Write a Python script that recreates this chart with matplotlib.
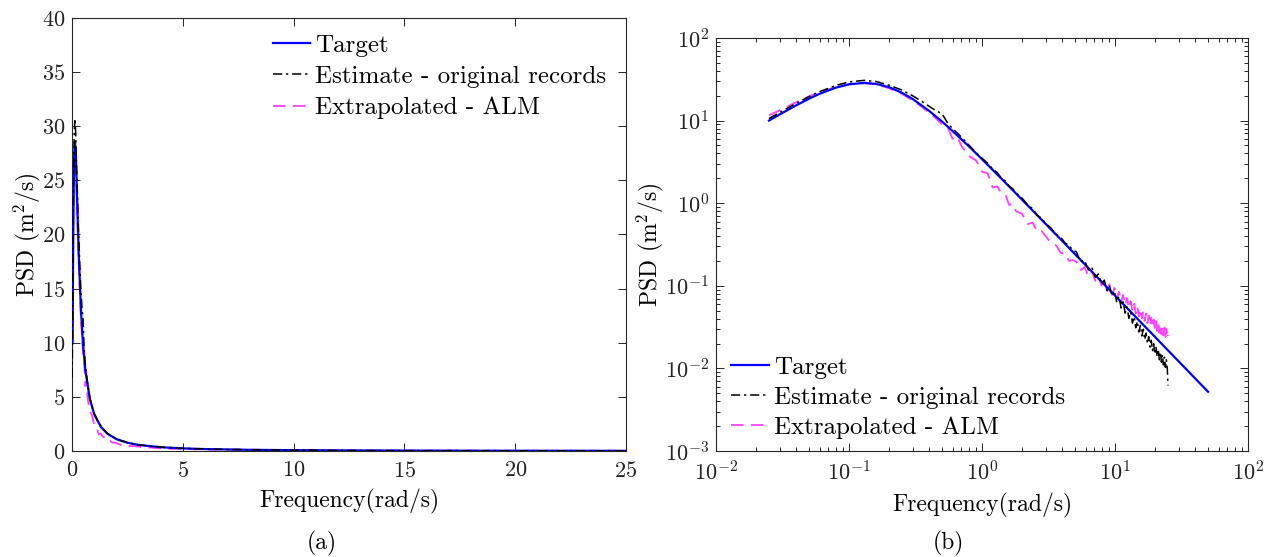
import numpy as np
import matplotlib
matplotlib.use("Agg")
import matplotlib.pyplot as plt

plt.rcParams["font.family"] = "cmr10"
plt.rcParams["mathtext.fontset"] = "cm"
plt.rcParams["axes.formatter.use_mathtext"] = True
plt.rcParams["axes.unicode_minus"] = False

# Target spectrum
freq_target = [0.025, 0.03, 0.04, 0.05, 0.06, 0.08, 0.10, 0.13, 0.16, 0.2, 0.25,
               0.3, 0.4, 0.5, 0.6, 0.8, 1.0, 1.3, 1.6, 2.0, 2.5, 3.0, 4.0, 5.0,
               6.0, 8.0, 10.0, 13.0, 16.0, 20.0, 25.0, 30.0, 40.0, 50.0]
psd_target = [10.0, 11.85, 15.3, 18.4, 21.1, 25.1, 27.5, 28.6, 27.8, 25.4, 21.7,
              18.3, 13.1, 9.73, 7.48, 4.84, 3.40, 2.23, 1.59, 1.10, 0.761, 0.563,
              0.350, 0.241, 0.178, 0.110, 0.0758, 0.0491, 0.0347, 0.0240, 0.0165,
              0.0122, 0.00755, 0.00521]

# Estimated spectra (shared frequency grid)
freq_est = [0.0, 0.025, 0.03, 0.04, 0.05, 0.06, 0.08, 0.10, 0.13, 0.16, 0.2, 0.25,
            0.3, 0.35, 0.4, 0.45, 0.5, 0.55, 0.6, 0.65, 0.7, 0.8, 0.9, 1.0, 1.1,
            1.2, 1.3, 1.4, 1.5, 1.6, 1.7, 1.8, 2.0, 2.2, 2.4, 2.6, 2.8, 3.0, 3.3,
            3.6, 3.9, 4.2, 4.5, 4.8, 5.1, 5.5, 5.9, 6.3, 6.7, 7.1, 7.5, 7.9, 8.3,
            8.7, 9.1, 9.5, 9.9, 10.3, 10.7, 11.1, 11.5, 11.9, 12.3, 12.7, 13.1,
            13.5, 13.9, 14.3, 14.7, 15.1, 15.5, 15.9, 16.3, 16.7, 17.1, 17.5, 17.9,
            18.3, 18.7, 19.1, 19.5, 19.9, 20.3, 20.7, 21.1, 21.5, 21.9, 22.3, 22.7,
            23.1, 23.5, 23.9, 24.3, 24.7, 25.0]

psd_original = [6.8, 10.6, 12.5, 16.2, 19.5, 22.4, 26.7, 29.4, 30.7, 29.7, 26.8, 23.4,
                20.0, 17.2, 14.9, 13.2, 12.1, 9.4, 8.0, 7.1, 6.3, 5.0, 4.1, 3.5, 3.05,
                2.6, 2.35, 2.0, 1.85, 1.6, 1.5, 1.33, 1.15, 0.95, 0.86, 0.71, 0.66, 0.57, 0.50,
                0.42, 0.39, 0.33, 0.31, 0.27, 0.259, 0.197, 0.203, 0.155, 0.167, 0.127, 0.139, 0.106, 0.117,
                0.0878, 0.0995, 0.0751, 0.0864, 0.0629, 0.0744, 0.0539, 0.0639, 0.0467, 0.0554, 0.0404, 0.0482,
                0.0353, 0.0423, 0.0310, 0.0372, 0.0276, 0.0332, 0.0247, 0.0298, 0.0222, 0.0268, 0.0200, 0.0242,
                0.0181, 0.0219, 0.0164, 0.0199, 0.0149, 0.0183, 0.0138, 0.0170, 0.0127, 0.0158, 0.0119, 0.0146,
                0.0110, 0.0137, 0.0103, 0.0127, 0.0098, 0.0062]

psd_alm = [8.0, 11.6, 13.3, 16.7, 19.6, 22.0, 25.6, 27.6, 28.3, 27.4, 24.6, 21.0,
           17.6, 14.8, 12.4, 10.6, 9.0, 8.3, 6.0, 6.4, 4.9, 3.7, 3.3, 2.4, 2.3,
           1.55, 1.6, 1.3, 1.25, 0.95, 0.98, 0.80, 0.74, 0.56, 0.58, 0.45, 0.46, 0.40, 0.33,
           0.31, 0.25, 0.245, 0.20, 0.205, 0.197, 0.155, 0.168, 0.130, 0.150, 0.115, 0.131, 0.101, 0.118,
           0.0867, 0.1043, 0.0778, 0.0941, 0.0699, 0.0850, 0.0634, 0.0774, 0.0580, 0.0711, 0.0534, 0.0650,
           0.0495, 0.0605, 0.0461, 0.0564, 0.0427, 0.0525, 0.0402, 0.0494, 0.0375, 0.0463, 0.0353, 0.0435,
           0.0333, 0.0411, 0.0315, 0.0389, 0.0298, 0.0370, 0.0284, 0.0352, 0.0270, 0.0336, 0.0258, 0.0321,
           0.0249, 0.0311, 0.0241, 0.0300, 0.0232, 0.0255]

labels = ["Target", "Estimate - original records", "Extrapolated - ALM"]
axis_color = "#262626"
blue = "#0000ff"
magenta = "#ff40ff"

fig = plt.figure(figsize=(12.68, 5.57), dpi=100)
ax1 = fig.add_axes([0.0568, 0.1903, 0.4369, 0.7774])
ax2 = fig.add_axes([0.5647, 0.1903, 0.4196, 0.7415])

fe = np.array(freq_est)
po = np.array(psd_original)
pa = np.array(psd_alm)
pos = fe > 0


def draw(ax, f_o, p_o, f_a, p_a):
    ax.plot(freq_target, psd_target, color=blue, lw=1.6, label=labels[0], zorder=3)
    ax.plot(f_o, p_o, color="black", lw=1.1, ls=(0, (6, 2.5, 1.5, 2.5)),
            label=labels[1], zorder=4)
    ax.plot(f_a, p_a, color=magenta, lw=1.3, ls=(0, (7, 4)), label=labels[2], zorder=2)


draw(ax1, fe, po, fe, pa)
draw(ax2, fe[pos], po[pos], fe[pos], pa[pos])

ax1.set_xlim(0, 25)
ax1.set_ylim(0, 40)
ax1.set_xticks([0, 5, 10, 15, 20, 25])
ax1.set_yticks([0, 5, 10, 15, 20, 25, 30, 35, 40])

ax2.set_xscale("log")
ax2.set_yscale("log")
ax2.set_xlim(1e-2, 1e2)
ax2.set_ylim(1e-3, 1e2)

for ax in (ax1, ax2):
    ax.tick_params(which="both", direction="in", top=True, right=True,
                   color=axis_color, labelcolor="#222222", labelsize=16, width=0.7)
    ax.tick_params(which="major", length=6)
    ax.tick_params(which="minor", length=3)
    ax.tick_params(axis="x", which="major", pad=7)
    ax.tick_params(axis="y", which="major", pad=5)
    for s in ax.spines.values():
        s.set_color(axis_color)
        s.set_linewidth(0.8)
    ax.set_xlabel("Frequency(rad/s)", fontsize=17, labelpad=6)
    ax.set_ylabel("PSD (m$^2$/s)", fontsize=17, labelpad=-1)

leg1 = ax1.legend(loc="upper left", bbox_to_anchor=(0.344, 0.985), frameon=False,
                  fontsize=18, handlelength=1.5, handletextpad=0.2, labelspacing=0.35,
                  borderaxespad=0.0)
leg2 = ax2.legend(loc="lower left", bbox_to_anchor=(0.0095, 0.006), frameon=False,
                  fontsize=18, handlelength=1.5, handletextpad=0.2, labelspacing=0.3,
                  borderaxespad=0.0)

fig.text(0.254, 0.025, "(a)", fontsize=17, ha="center", va="center")
fig.text(0.748, 0.025, "(b)", fontsize=17, ha="center", va="center")

fig.savefig("out.png", dpi=100)
